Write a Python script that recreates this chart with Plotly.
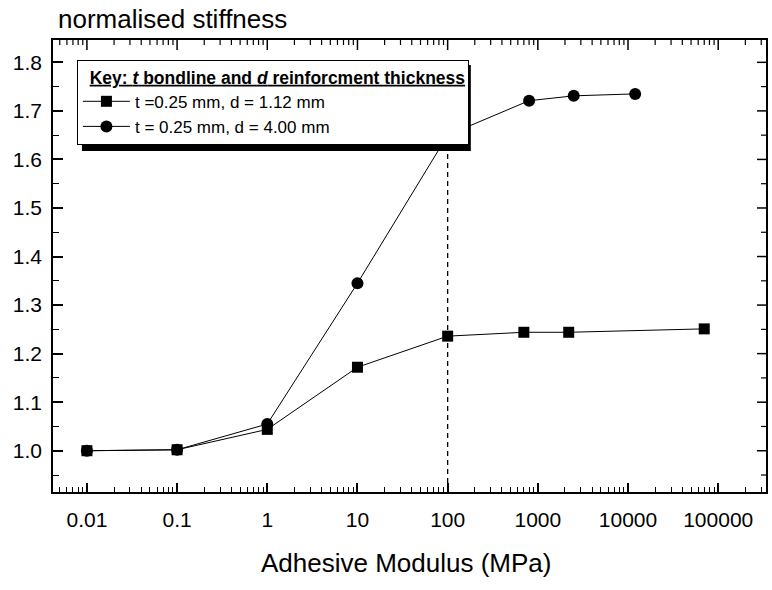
import math

import plotly.graph_objects as go

# Adhesive modulus (MPa) and normalised stiffness for each joint geometry
modulus_thin = [0.01, 0.1, 1, 10, 100, 700, 2200, 70000]
stiffness_thin = [1.0, 1.002, 1.044, 1.172, 1.236, 1.244, 1.244, 1.251]

modulus_thick = [0.01, 0.1, 1, 10, 100, 800, 2500, 12000]
stiffness_thick = [1.0, 1.002, 1.055, 1.345, 1.65, 1.721, 1.731, 1.735]

name_thin = "t =0.25 mm, d = 1.12 mm"
name_thick = "t = 0.25 mm, d = 4.00 mm"

x_tick_values = [0.01, 0.1, 1, 10, 100, 1000, 10000, 100000]
x_tick_labels = ["0.01", "0.1", "1", "10", "100", "1000", "10000", "100000"]
y_tick_values = [1.0, 1.1, 1.2, 1.3, 1.4, 1.5, 1.6, 1.7, 1.8]
y_tick_labels = ["1.0", "1.1", "1.2", "1.3", "1.4", "1.5", "1.6", "1.7", "1.8"]

marker_line_x = 100  # reference modulus marked by the dashed line

FONT = "Arial, Liberation Sans, sans-serif"
X_RANGE = [-2.376, 5.53]
Y_RANGE = [0.915, 1.846]

# plot area in pixels
L, R, T, B = 53, 768, 40, 492
W, H = R - L, B - T


def px(x):
    return (x - L) / W


def py(y):
    return (B - y) / H


fig = go.Figure()

fig.add_trace(go.Scatter(
    x=modulus_thick, y=stiffness_thick, name=name_thick, mode="lines+markers",
    line=dict(color="black", width=1),
    marker=dict(symbol="circle", size=12, color="black"),
))
fig.add_trace(go.Scatter(
    x=modulus_thin, y=stiffness_thin, name=name_thin, mode="lines+markers",
    line=dict(color="black", width=1),
    marker=dict(symbol="square", size=11, color="black"),
))

# minor tick positions: 2..9 within each decade, and half steps on y
minor_x = [m * 10 ** e for e in range(-3, 6) for m in range(2, 10)]
minor_x = [v for v in minor_x if X_RANGE[0] <= math.log10(v) <= X_RANGE[1]]
minor_y = [round(v + 0.05, 2) for v in [0.9] + y_tick_values if v + 0.05 < Y_RANGE[1]]

fig.update_xaxes(
    type="log", range=X_RANGE,
    tickmode="array", tickvals=x_tick_values, ticktext=x_tick_labels,
    ticks="inside", ticklen=9, tickwidth=1.5, tickcolor="black",
    minor=dict(tickmode="array", tickvals=minor_x, ticks="inside",
               ticklen=5, tickwidth=1.2, tickcolor="black"),
    showline=True, linecolor="black", linewidth=1.5, mirror=True,
    showgrid=False, zeroline=False,
    tickfont=dict(family=FONT, size=21, color="black"),
    ticklabelstandoff=8,
)
fig.update_yaxes(
    range=Y_RANGE, tickmode="array", tickvals=y_tick_values,
    ticktext=y_tick_labels,
    ticks="inside", ticklen=10, tickwidth=1.5, tickcolor="black",
    minor=dict(tickmode="array", tickvals=minor_y, ticks="inside",
               ticklen=6, tickwidth=1.2, tickcolor="black"),
    showline=True, linecolor="black", linewidth=1.5, mirror=True,
    showgrid=False, zeroline=False,
    tickfont=dict(family=FONT, size=21, color="black"),
    ticklabelstandoff=5,
)

# tick marks along the top and right frame
for v, length, w in ([(v, 10, 1.5) for v in x_tick_values if v < 10 ** X_RANGE[1]]
                     + [(v, 5, 1.2) for v in minor_x]):
    fig.add_shape(type="line", xref="x", yref="paper", x0=v, x1=v,
                  y0=1, y1=1 - length / H, line=dict(width=w, color="black"))
for v, length, w in ([(v, 9, 1.5) for v in y_tick_values]
                     + [(v, 5, 1.2) for v in minor_y]):
    fig.add_shape(type="line", xref="paper", yref="y", x0=1, x1=1 - length / W,
                  y0=v, y1=v, line=dict(width=w, color="black"))

# dashed reference line at 100 MPa
fig.add_shape(type="line", xref="x", yref="y",
              x0=marker_line_x, x1=marker_line_x, y0=Y_RANGE[0], y1=1.64,
              line=dict(color="black", width=1.3, dash="5px,4px"))

# drop shadow behind the key box
fig.add_shape(type="rect", xref="paper", yref="paper",
              x0=px(82), x1=px(472), y0=py(151), y1=py(65),
              fillcolor="black", line=dict(width=0), layer="above")

fig.add_annotation(text="normalised stiffness", xref="paper", yref="paper",
                   x=px(56), y=py(19), xanchor="left", yanchor="middle",
                   showarrow=False,
                   font=dict(family=FONT, size=26, color="black"))
fig.add_annotation(text="Adhesive Modulus (MPa)", xref="paper", yref="paper",
                   x=px(407), y=py(563), xanchor="center", yanchor="middle",
                   showarrow=False,
                   font=dict(family=FONT, size=26, color="black"))

fig.update_layout(
    width=772, height=590,
    margin=dict(l=L, r=772 - R, t=T, b=590 - B),
    paper_bgcolor="white", plot_bgcolor="white",
    showlegend=True,
    legend=dict(
        title=dict(text="&nbsp;&nbsp;<b><u>Key: <i>t</i> bondline and <i>d</i> reinforcment thickness</u></b>",
                   font=dict(family=FONT, size=17.5, color="black")),
        x=px(77), y=py(60), xanchor="left", yanchor="top",
        bgcolor="white", bordercolor="black", borderwidth=1,
        font=dict(family=FONT, size=17, color="black"),
        traceorder="reversed", tracegroupgap=0, itemwidth=47,
        entrywidth=333, entrywidthmode="pixels",
    ),
)

fig.write_html("out.html")
